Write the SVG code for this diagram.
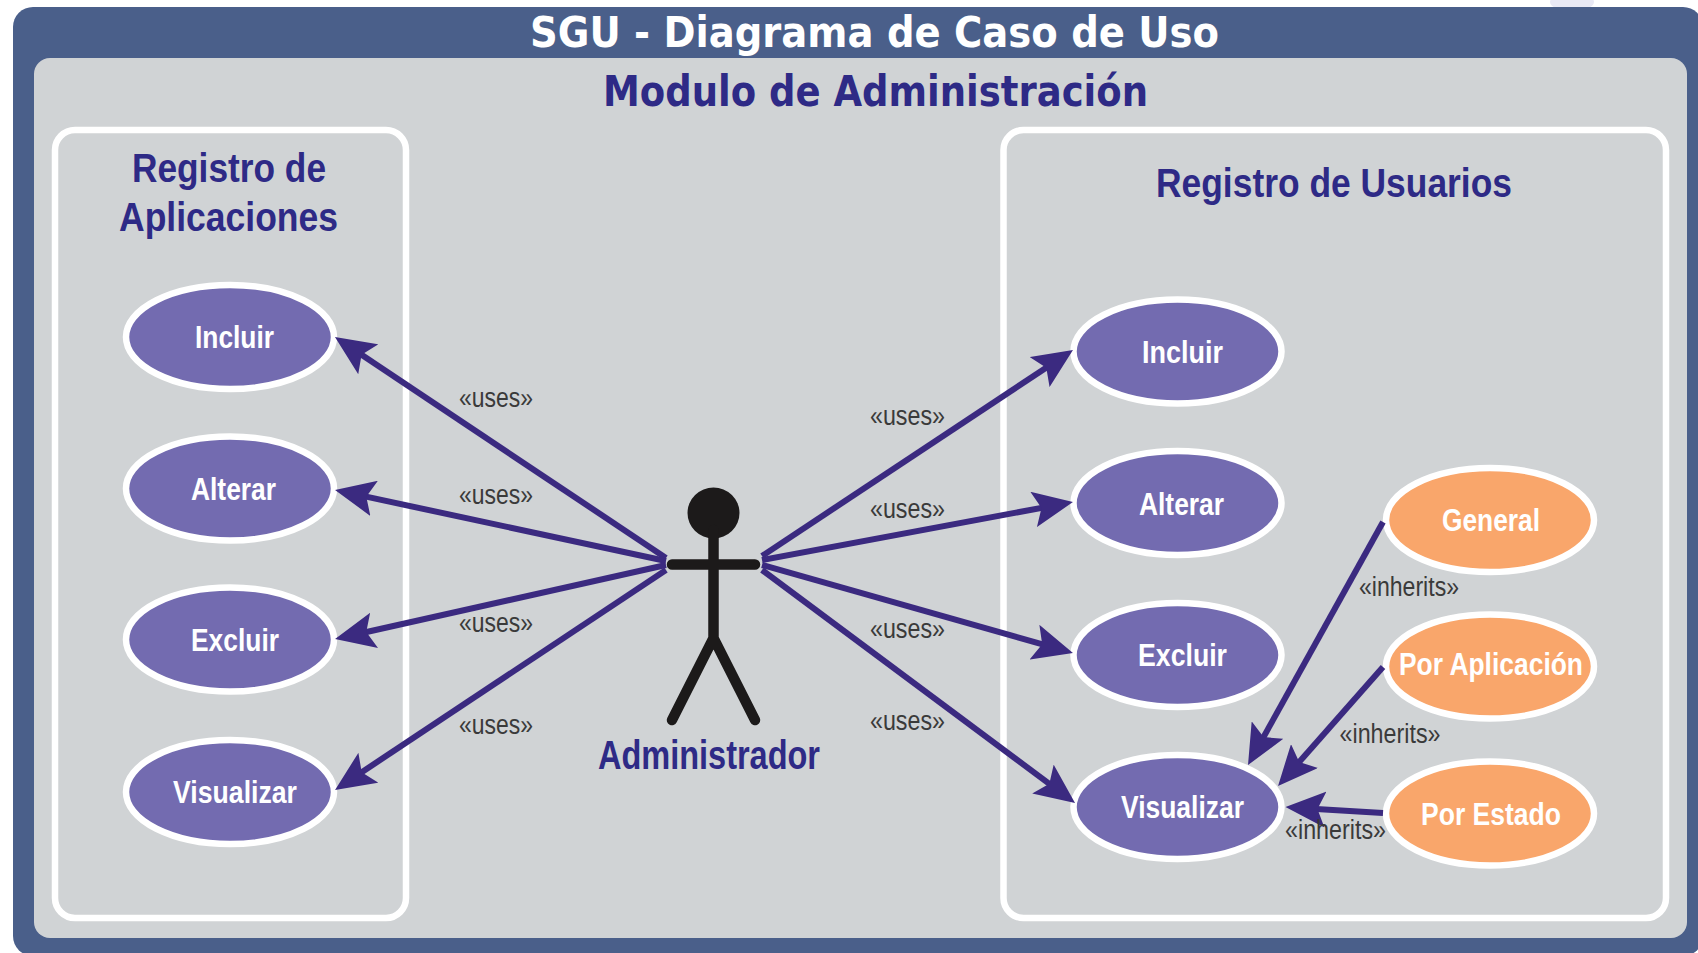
<svg xmlns="http://www.w3.org/2000/svg" width="1698" height="953" viewBox="0 0 1698 953">
<style>
text{font-family:"Liberation Sans",Arial,sans-serif;text-anchor:start}
.title{font-family:"DejaVu Sans",sans-serif;font-weight:700;font-size:43px;fill:#fff}
.mod{font-family:"DejaVu Sans",sans-serif;font-weight:700;font-size:42px;fill:#2e2a86}
.head{font-weight:700;font-size:40px;fill:#2e2a86}
.lab{font-weight:700;font-size:32px;fill:#fff}
.rel{font-size:27px;fill:#3a3a3a}
.box{fill:none;stroke:#fff;stroke-width:6.500}
.uc{stroke:#fff;stroke-width:6.500;fill:#736bb0}
.uo{stroke:#fff;stroke-width:6.500;fill:#f9a66b}
.conn line{stroke:#3b2a80;stroke-width:6;marker-end:url(#ah)}
.act{stroke:#1c1a1a;stroke-width:10.500;stroke-linecap:round;fill:none}
</style>
<defs>
<marker id="ah" markerUnits="userSpaceOnUse" markerWidth="40" markerHeight="36" viewBox="0 0 40 36" refX="26" refY="18" orient="auto">
<path d="M40,18 L0,0 L8,18 L0,36 Z" fill="#3b2a80"/>
</marker>
</defs>
<rect width="1698" height="953" fill="#fff"/>
<ellipse cx="1572" cy="2" rx="22" ry="9" fill="#e9e9f5"/>
<rect x="13" y="7" width="1690" height="949" rx="20" fill="#4a5f8a"/>
<rect x="34" y="58" width="1653" height="880" rx="16" fill="#d0d3d5"/>
<text class="title" x="530" y="47" textLength="689" lengthAdjust="spacingAndGlyphs">SGU - Diagrama de Caso de Uso</text>
<text class="mod" x="603" y="106" textLength="545" lengthAdjust="spacingAndGlyphs">Modulo de Administración</text>

<g id="pkg-aplicaciones">
<rect class="box" x="55" y="130" width="351" height="788" rx="20"/>
<text class="head" x="132" y="182" textLength="194" lengthAdjust="spacingAndGlyphs">Registro de</text>
<text class="head" x="119" y="231" textLength="219" lengthAdjust="spacingAndGlyphs">Aplicaciones</text>
</g>
<g id="pkg-usuarios">
<rect class="box" x="1003.500" y="130" width="662.500" height="788" rx="20"/>
<text class="head" x="1156" y="197" textLength="356" lengthAdjust="spacingAndGlyphs">Registro de Usuarios</text>
</g>

<g id="app-incluir"><ellipse class="uc" cx="230" cy="337" rx="104" ry="52"/><text class="lab" x="195" y="348" textLength="79" lengthAdjust="spacingAndGlyphs">Incluir</text></g>
<g id="app-alterar"><ellipse class="uc" cx="230" cy="488.500" rx="104" ry="52"/><text class="lab" x="191" y="500" textLength="85" lengthAdjust="spacingAndGlyphs">Alterar</text></g>
<g id="app-excluir"><ellipse class="uc" cx="230" cy="639.500" rx="104" ry="52"/><text class="lab" x="191" y="651" textLength="88" lengthAdjust="spacingAndGlyphs">Excluir</text></g>
<g id="app-visualizar"><ellipse class="uc" cx="230" cy="792" rx="104" ry="52"/><text class="lab" x="173" y="803" textLength="124" lengthAdjust="spacingAndGlyphs">Visualizar</text></g>

<g id="usr-incluir"><ellipse class="uc" cx="1177.500" cy="351.500" rx="104" ry="52"/><text class="lab" x="1142" y="363" textLength="81" lengthAdjust="spacingAndGlyphs">Incluir</text></g>
<g id="usr-alterar"><ellipse class="uc" cx="1177.500" cy="503" rx="104" ry="52"/><text class="lab" x="1139" y="515" textLength="85" lengthAdjust="spacingAndGlyphs">Alterar</text></g>
<g id="usr-excluir"><ellipse class="uc" cx="1177.500" cy="655" rx="104" ry="52"/><text class="lab" x="1138" y="666" textLength="89" lengthAdjust="spacingAndGlyphs">Excluir</text></g>
<g id="usr-visualizar"><ellipse class="uc" cx="1177.500" cy="807" rx="104" ry="52"/><text class="lab" x="1121" y="818" textLength="123" lengthAdjust="spacingAndGlyphs">Visualizar</text></g>

<g id="general"><ellipse class="uo" cx="1490" cy="520" rx="104" ry="52"/><text class="lab" x="1442" y="531" textLength="98" lengthAdjust="spacingAndGlyphs">General</text></g>
<g id="por-aplicacion"><ellipse class="uo" cx="1490" cy="666.500" rx="104" ry="52"/><text class="lab" x="1399" y="675" textLength="184" lengthAdjust="spacingAndGlyphs">Por Aplicación</text></g>
<g id="por-estado"><ellipse class="uo" cx="1490" cy="813.500" rx="104" ry="52"/><text class="lab" x="1421" y="825" textLength="140" lengthAdjust="spacingAndGlyphs">Por Estado</text></g>

<g id="administrador">
<ellipse cx="713.500" cy="513" rx="26" ry="25.500" fill="#1c1a1a"/>
<path class="act" d="M713.500,530V638M672,564.500H755M713.500,638L672,720M713.500,638L755,720"/>
<text class="head" x="598" y="769" textLength="222" lengthAdjust="spacingAndGlyphs">Administrador</text>
</g>

<g id="connectors" class="conn">
<line x1="666" y1="558" x2="346.600" y2="344.800"/>
<line x1="666" y1="561" x2="348.700" y2="492.900"/>
<line x1="666" y1="565" x2="348.700" y2="636"/>
<line x1="666" y1="570" x2="346.700" y2="782.200"/>
<line x1="762" y1="556" x2="1061.300" y2="357.700"/>
<line x1="762" y1="560" x2="1059.200" y2="504.600"/>
<line x1="762" y1="565" x2="1059.500" y2="649.200"/>
<line x1="762" y1="570" x2="1063.800" y2="794.600"/>
<line x1="1383" y1="522" x2="1254.800" y2="752.800"/>
<line x1="1383" y1="667" x2="1287.300" y2="775.500"/>
<line x1="1383" y1="813" x2="1299.500" y2="807.900"/>
</g>

<g id="connector-labels">
<text class="rel" x="459" y="407" textLength="74" lengthAdjust="spacingAndGlyphs">«uses»</text>
<text class="rel" x="459" y="504" textLength="74" lengthAdjust="spacingAndGlyphs">«uses»</text>
<text class="rel" x="459" y="632" textLength="74" lengthAdjust="spacingAndGlyphs">«uses»</text>
<text class="rel" x="459" y="734" textLength="74" lengthAdjust="spacingAndGlyphs">«uses»</text>
<text class="rel" x="870" y="425" textLength="75" lengthAdjust="spacingAndGlyphs">«uses»</text>
<text class="rel" x="870" y="518" textLength="75" lengthAdjust="spacingAndGlyphs">«uses»</text>
<text class="rel" x="870" y="638" textLength="75" lengthAdjust="spacingAndGlyphs">«uses»</text>
<text class="rel" x="870" y="730" textLength="75" lengthAdjust="spacingAndGlyphs">«uses»</text>
<text class="rel" x="1359" y="596" textLength="100" lengthAdjust="spacingAndGlyphs">«inherits»</text>
<text class="rel" x="1339.500" y="743" textLength="101" lengthAdjust="spacingAndGlyphs">«inherits»</text>
<text class="rel" x="1285" y="839" textLength="101" lengthAdjust="spacingAndGlyphs">«inherits»</text>
</g>
</svg>
